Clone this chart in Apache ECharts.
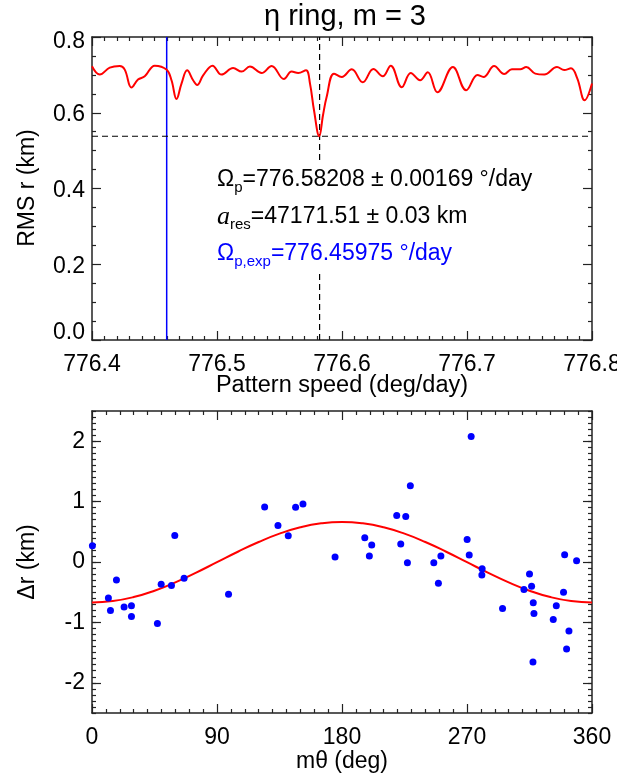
<!DOCTYPE html>
<html><head><meta charset="utf-8">
<script src="https://cdn.jsdelivr.net/npm/echarts@6/dist/echarts.min.js"></script>
<style>html,body{margin:0;padding:0;background:#fff}#c{width:639px;height:774px}</style>
</head><body><div id="c"></div>
<script>
// ---- top panel: RMS residual vs pattern speed ----
const speed = [776.4000,776.4062,776.4142,776.4222,776.4262,776.4316,776.4368,776.4422,776.4502,776.4596,
  776.4636,776.4676,776.4716,776.4761,776.4809,776.4841,776.4889,776.4964,776.5036,776.5129,
  776.5197,776.5263,776.5357,776.5437,776.5535,776.5597,776.5650,776.5712,776.5744,776.5776,
  776.5818,776.5848,776.5877,776.5936,776.5998,776.6078,776.6166,776.6251,776.6326,776.6390,
  776.6478,776.6550,776.6625,776.6686,776.6763,776.6887,776.6993,776.7084,776.7132,776.7217,
  776.7298,776.7359,776.7426,776.7474,776.7546,776.7618,776.7720,776.7778,776.7832,776.7882,
  776.7941,776.8000];
const rms = [0.7226,0.7007,0.7191,0.7234,0.7139,0.6664,0.6875,0.6962,0.7244,0.7139,
  0.6857,0.6363,0.6770,0.7120,0.6857,0.6733,0.6988,0.7244,0.7007,0.7181,
  0.7086,0.7218,0.7049,0.7234,0.6891,0.7086,0.7049,0.7120,0.6770,0.6065,
  0.5380,0.5934,0.6416,0.7033,0.6944,0.7147,0.6804,0.7155,0.6962,0.7244,
  0.6672,0.7049,0.6857,0.7068,0.6540,0.7207,0.6593,0.6996,0.6944,0.7234,
  0.7023,0.7147,0.7147,0.7207,0.7033,0.7007,0.7207,0.7128,0.7173,0.6909,
  0.6329,0.6770];
const fitSpeed = 776.58208;
const expSpeed = 776.45975;
const minRms = 0.538;
const rmsRange = [0.0, 0.8];
const speedRange = [776.4, 776.8];
const rmsLabels = [0.0, 0.2, 0.4, 0.6, 0.8];

// ---- bottom panel: radial residuals vs m*theta ----
const theta = [0.3,11.8,13.3,17.6,23.1,28.4,28.4,47.1,49.8,57.2,59.6,66.3,98.3,124.3,133.9,141.3,146.6,151.9,175.0,
  273.0,229.2,219.4,225.9,196.4,201.4,199.7,222.3,227.1,246.1,251.2,249.4,270.1,271.6,280.9,280.7,295.6,
  315.0,316.5,311.0,317.7,318.2,317.5,332.1,334.3,339.5,340.3,348.9,343.4,341.7];
const dr = [0.27,-0.594,-0.803,-0.297,-0.747,-0.725,-0.901,-1.017,-0.368,-0.39,0.44,-0.269,-0.533,0.912,0.605,0.434,0.907,0.961,0.082,
  2.078,1.264,0.77,0.753,0.40,0.28,0.099,0.297,-0.011,-0.011,0.099,-0.352,0.374,0.115,-0.11,-0.214,-0.77,
  -0.198,-0.401,-0.457,-0.676,-0.852,-1.654,-0.951,-0.725,-0.5,0.12,0.021,-1.143,-1.439];
const fitTheta = [0,15,30,45,60,75,90,105,120,135,150,165,180,195,210,225,240,255,270,285,300,315,330,345,360];
const fitDr = [-0.670,-0.647,-0.581,-0.475,-0.337,-0.176,-0.003,0.170,0.331,0.469,0.575,0.641,0.664,
  0.641,0.575,0.469,0.331,0.170,-0.003,-0.176,-0.337,-0.475,-0.581,-0.647,-0.670];
const drLabels = [-2, -1, 0, 1, 2];
const thetaLabels = [0, 90, 180, 270, 360];

const FONT = 'Liberation Sans, Arial, Helvetica, sans-serif';
const AX = '#222';
const drMinor = [];
for (let i = -25; i <= 25; i++) drMinor.push(i / 10);

function frameAxis(extra) {
  return Object.assign({
    type: 'value',
    axisLine: { show: true, onZero: false, lineStyle: { color: AX, width: 1.5 } },
    axisTick: { show: true, inside: true, length: 9, lineStyle: { color: AX, width: 1.2 } },
    minorTick: { show: false },
    splitLine: { show: false },
    axisLabel: { show: false }
  }, extra);
}
const minorX = n => ({ show: true, splitNumber: n, length: 4, lineStyle: { color: AX, width: 1.2 } });
const xlab = { show: true, margin: 13, fontSize: 23, color: '#000', fontFamily: FONT };
const noLine = { show: false, onZero: false };

const chart = echarts.init(document.getElementById('c'));
chart.setOption({
  animation: false,
  backgroundColor: '#fff',
  grid: [
    { left: 92, top: 37, width: 500, height: 303 },
    { left: 92, top: 411, width: 500, height: 302 }
  ],
  xAxis: [
    frameAxis({ gridIndex: 0, position: 'bottom', min: 776.4, max: 776.8, interval: 0.1, minorTick: minorX(10),
      axisLabel: Object.assign({}, xlab, { formatter: v => v.toFixed(1) }) }),
    frameAxis({ gridIndex: 0, position: 'top', min: 776.4, max: 776.8, interval: 0.1, minorTick: minorX(10) }),
    frameAxis({ gridIndex: 1, position: 'bottom', min: 0, max: 360, interval: 90, minorTick: minorX(9),
      axisLabel: Object.assign({}, xlab, { formatter: v => String(v) }) }),
    frameAxis({ gridIndex: 1, position: 'top', min: 0, max: 360, interval: 90, minorTick: minorX(9) })
  ],
  yAxis: [
    frameAxis({ gridIndex: 0, position: 'left', min: 0, max: 0.8, interval: 0.2, minorTick: minorX(4),
      axisLabel: { show: true, margin: 7, color: '#000', fontSize: 23, fontFamily: FONT,
        formatter: v => {
          const s = v.toFixed(1);
          if (Math.abs(v) < 1e-9) return '{b|' + s + '}';
          if (Math.abs(v - 0.8) < 1e-9) return '{t|' + s + '}';
          return '{m|' + s + '}';
        },
        rich: {
          b: { fontSize: 23, fontFamily: FONT, color: '#000', padding: [0, 0, 14, 0] },
          t: { fontSize: 23, fontFamily: FONT, color: '#000', padding: [10, 0, 0, 0] },
          m: { fontSize: 23, fontFamily: FONT, color: '#000', padding: [4, 0, 0, 0] }
        } } }),
    frameAxis({ gridIndex: 0, position: 'right', min: 0, max: 0.8, interval: 0.2, minorTick: minorX(4) }),
    frameAxis({ gridIndex: 1, position: 'left', min: -2.5, max: 2.5,
      axisTick: { show: true, inside: true, length: 9, customValues: drLabels, lineStyle: { color: AX, width: 1.2 } },
      axisLabel: { show: true, margin: 7, color: '#000', fontSize: 23, fontFamily: FONT,
        customValues: drLabels, formatter: v => String(v), padding: [3, 0, 0, 0] } }),
    frameAxis({ gridIndex: 1, position: 'left', min: -2.5, max: 2.5, axisLine: noLine,
      axisTick: { show: true, inside: true, length: 4, customValues: drMinor, lineStyle: { color: AX, width: 1.2 } } }),
    frameAxis({ gridIndex: 1, position: 'right', min: -2.5, max: 2.5,
      axisTick: { show: true, inside: true, length: 9, customValues: drLabels, lineStyle: { color: AX, width: 1.2 } } }),
    frameAxis({ gridIndex: 1, position: 'right', min: -2.5, max: 2.5, axisLine: noLine,
      axisTick: { show: true, inside: true, length: 4, customValues: drMinor, lineStyle: { color: AX, width: 1.2 } } })
  ],
  series: [
    {
      type: 'line', xAxisIndex: 0, yAxisIndex: 0,
      data: [[expSpeed, rmsRange[0]], [expSpeed, rmsRange[1]]],
      showSymbol: false, symbol: 'none', silent: true,
      lineStyle: { color: '#0000ff', width: 1.5 }, z: 2
    },
    {
      type: 'line', xAxisIndex: 0, yAxisIndex: 0,
      data: [[fitSpeed, rmsRange[0]], [fitSpeed, rmsRange[1]]],
      showSymbol: false, symbol: 'none', silent: true,
      lineStyle: { color: '#000', width: 1.2, type: [6, 4] }, z: 2
    },
    {
      type: 'line', xAxisIndex: 0, yAxisIndex: 0,
      data: [[speedRange[0], minRms], [speedRange[1], minRms]],
      showSymbol: false, symbol: 'none', silent: true,
      lineStyle: { color: '#000', width: 1.2, type: [6, 4] }, z: 2
    },
    {
      type: 'line', xAxisIndex: 0, yAxisIndex: 0,
      data: speed.map((s, i) => [s, rms[i]]),
      smooth: 0.4, showSymbol: false, symbol: 'none',
      lineStyle: { color: '#ff0000', width: 2 }, z: 3
    },
    {
      type: 'line', xAxisIndex: 2, yAxisIndex: 2,
      data: fitTheta.map((t, i) => [t, fitDr[i]]),
      smooth: 0.5, showSymbol: false, symbol: 'none',
      lineStyle: { color: '#ff0000', width: 2 }, z: 2
    },
    {
      type: 'scatter', xAxisIndex: 2, yAxisIndex: 2,
      data: theta.map((t, i) => [t, dr[i]]),
      symbolSize: 7, itemStyle: { color: '#0000ff', opacity: 1 }, z: 3
    }
  ],
  graphic: [
    { type: 'text', z: 100, x: 345, y: 17,
      style: { text: 'η ring, m = 3', font: '29px ' + FONT, fill: '#000', align: 'center', verticalAlign: 'middle' } },
    { type: 'text', z: 100, x: 342, y: 386,
      style: { text: 'Pattern speed (deg/day)', font: '23.5px ' + FONT, fill: '#000', align: 'center', verticalAlign: 'middle' } },
    { type: 'text', z: 100, x: 28, y: 188, rotation: Math.PI / 2,
      style: { text: 'RMS r (km)', font: '23px ' + FONT, fill: '#000', align: 'center', verticalAlign: 'middle' } },
    { type: 'text', z: 100, x: 28, y: 562, rotation: Math.PI / 2,
      style: { text: 'Δr (km)', font: '23px ' + FONT, fill: '#000', align: 'center', verticalAlign: 'middle' } },
    { type: 'text', z: 100, x: 342, y: 762,
      style: { text: 'mθ (deg)', font: '23px ' + FONT, fill: '#000', align: 'center', verticalAlign: 'middle' } },
    { type: 'rect', z: 90, shape: { x: 205, y: 164, width: 345, height: 106 }, style: { fill: '#fff' } },
    { type: 'rect', z: 90, shape: { x: 617, y: 344, width: 22, height: 30 }, style: { fill: '#fff' } },
    { type: 'text', z: 100, x: 217, y: 180,
      style: { text: '{m|Ω}{s|p}{m|=776.58208 ± 0.00169 °/day}', verticalAlign: 'middle', align: 'left',
        rich: { m: { fontSize: 23, fontFamily: FONT, fill: '#000', lineHeight: 30 },
                s: { fontSize: 15, fontFamily: FONT, fill: '#000', lineHeight: 15, verticalAlign: 'bottom' } } } },
    { type: 'text', z: 100, x: 217, y: 217,
      style: { text: '{a|a}{s|res}{m|=47171.51 ± 0.03 km}', verticalAlign: 'middle', align: 'left',
        rich: { a: { fontSize: 26, fontFamily: 'Liberation Serif, Times New Roman, serif', fontStyle: 'italic', fill: '#000', lineHeight: 30 },
                m: { fontSize: 23, fontFamily: FONT, fill: '#000', lineHeight: 30 },
                s: { fontSize: 15, fontFamily: FONT, fill: '#000', lineHeight: 15, verticalAlign: 'bottom' } } } },
    { type: 'text', z: 100, x: 217, y: 254,
      style: { text: '{m|Ω}{s|p,exp}{m|=776.45975 °/day}', verticalAlign: 'middle', align: 'left',
        rich: { m: { fontSize: 23, fontFamily: FONT, fill: '#0000ff', lineHeight: 30 },
                s: { fontSize: 15, fontFamily: FONT, fill: '#0000ff', lineHeight: 15, verticalAlign: 'bottom' } } } }
  ]
});
</script></body></html>
